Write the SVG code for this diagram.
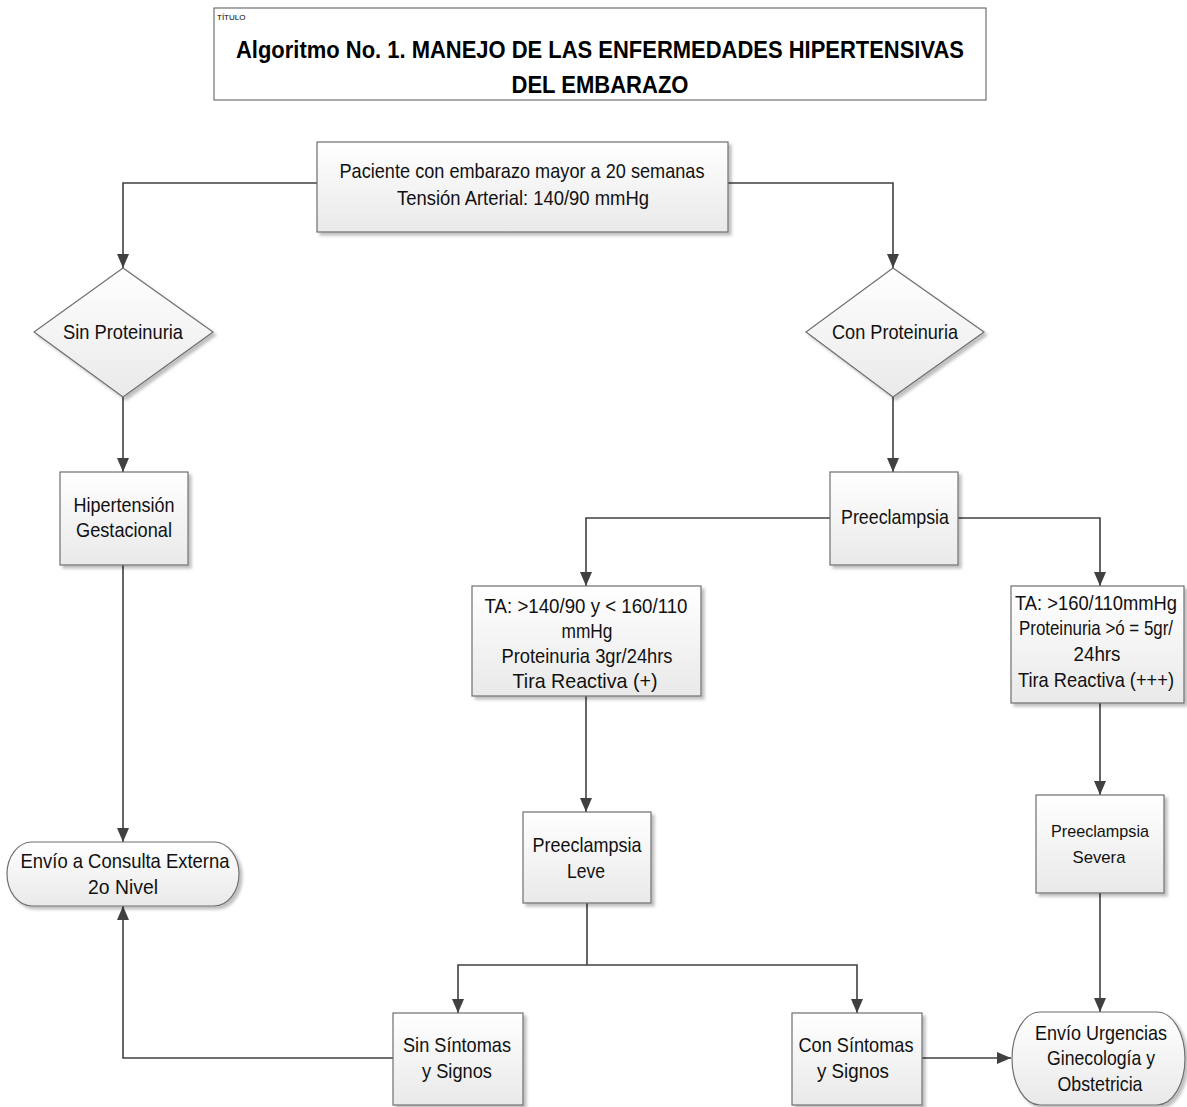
<svg xmlns="http://www.w3.org/2000/svg" width="1187" height="1107" viewBox="0 0 1187 1107">
<style>
.t{font-family:"Liberation Sans",Arial,sans-serif;font-size:21px;fill:#111;text-anchor:middle}
.s{font-family:"Liberation Sans",Arial,sans-serif;font-size:17px;fill:#111;text-anchor:middle}
.ttl{font-family:"Liberation Sans",Arial,sans-serif;font-size:24px;font-weight:bold;fill:#000;text-anchor:middle}
.box{fill:url(#g);stroke:#6f6f6f;stroke-width:1.2;filter:url(#sh)}
.c{fill:none;stroke:#404040;stroke-width:1.6}
.ca{fill:none;stroke:#404040;stroke-width:1.6;marker-end:url(#ah)}
</style>
<defs>
<linearGradient id="g" x1="0" y1="0" x2="0" y2="1">
<stop offset="0" stop-color="#ffffff"/>
<stop offset="1" stop-color="#e9e9e9"/>
</linearGradient>
<filter id="sh" x="-10%" y="-10%" width="130%" height="130%">
<feDropShadow dx="3" dy="3" stdDeviation="1.5" flood-color="#000" flood-opacity="0.25"/>
</filter>
<marker id="ah" markerUnits="userSpaceOnUse" markerWidth="14" markerHeight="12" refX="14" refY="6" orient="auto">
<path d="M0,0 L14,6 L0,12 z" fill="#404040"/>
</marker>
</defs>

<g id="title">
<rect x="214" y="8" width="772" height="92" fill="#fff" stroke="#555" stroke-width="1"/>
<text x="217" y="20" font-family="Liberation Sans,Arial,sans-serif" font-size="8" fill="#000">TÍTULO</text>
<text class="ttl" x="600" y="58" textLength="728" lengthAdjust="spacingAndGlyphs">Algoritmo No. 1.  MANEJO DE LAS ENFERMEDADES HIPERTENSIVAS</text>
<text class="ttl" x="600" y="93" textLength="177" lengthAdjust="spacingAndGlyphs">DEL EMBARAZO</text>
</g>

<g id="connectors">
<path class="ca" d="M317,183 H123 V268"/>
<path class="ca" d="M728,183 H893 V268"/>
<path class="ca" d="M123,397 V472"/>
<path class="ca" d="M893,397 V472"/>
<path class="ca" d="M830,518 H586 V586"/>
<path class="ca" d="M958,518 H1100 V586"/>
<path class="ca" d="M586,696 V812"/>
<path class="ca" d="M1100,703 V795"/>
<path class="ca" d="M1100,893 V1012"/>
<path class="c" d="M587,903 V965"/>
<path class="ca" d="M587,965 H458 V1013"/>
<path class="ca" d="M587,965 H857 V1013"/>
<path class="ca" d="M123,565 V842"/>
<path class="ca" d="M393,1058 H123 V906"/>
<path class="ca" d="M922,1058 H1011"/>
</g>

<g id="start">
<rect class="box" x="317" y="142" width="411" height="90"/>
<text class="t" x="522" y="178" textLength="365" lengthAdjust="spacingAndGlyphs">Paciente con embarazo mayor a 20 semanas</text>
<text class="t" x="523" y="205" textLength="252" lengthAdjust="spacingAndGlyphs">Tensión Arterial:  140/90 mmHg</text>
</g>

<g id="sin-proteinuria">
<path class="box" d="M123,268 L213,332 L123,397 L34,332 z"/>
<text class="t" x="123" y="339" textLength="120" lengthAdjust="spacingAndGlyphs">Sin Proteinuria</text>
</g>

<g id="con-proteinuria">
<path class="box" d="M893,268 L984,332 L893,397 L806,332 z"/>
<text class="t" x="895" y="339" textLength="126" lengthAdjust="spacingAndGlyphs">Con Proteinuria</text>
</g>

<g id="hipertension">
<rect class="box" x="60" y="472" width="128" height="93"/>
<text class="t" x="124" y="512" textLength="101" lengthAdjust="spacingAndGlyphs">Hipertensión</text>
<text class="t" x="124" y="537" textLength="96" lengthAdjust="spacingAndGlyphs">Gestacional</text>
</g>

<g id="preeclampsia">
<rect class="box" x="830" y="472" width="128" height="93"/>
<text class="t" x="895" y="524" textLength="108" lengthAdjust="spacingAndGlyphs">Preeclampsia</text>
</g>

<g id="ta-leve">
<rect class="box" x="472" y="586" width="229" height="110"/>
<text class="t" x="586" y="613" textLength="203" lengthAdjust="spacingAndGlyphs">TA:  &gt;140/90 y &lt; 160/110</text>
<text class="t" x="587" y="638" textLength="51" lengthAdjust="spacingAndGlyphs">mmHg</text>
<text class="t" x="587" y="663" textLength="171" lengthAdjust="spacingAndGlyphs">Proteinuria 3gr/24hrs</text>
<text class="t" x="585" y="688" textLength="145" lengthAdjust="spacingAndGlyphs">Tira Reactiva (+)</text>
</g>

<g id="ta-severa">
<rect class="box" x="1011" y="586" width="173" height="117"/>
<text class="t" x="1096" y="610" textLength="162" lengthAdjust="spacingAndGlyphs">TA: &gt;160/110mmHg</text>
<text class="t" x="1096" y="635" textLength="154" lengthAdjust="spacingAndGlyphs">Proteinuria &gt;ó = 5gr/</text>
<text class="t" x="1097" y="661" textLength="47" lengthAdjust="spacingAndGlyphs">24hrs</text>
<text class="t" x="1096" y="687" textLength="156" lengthAdjust="spacingAndGlyphs">Tira Reactiva (+++)</text>
</g>

<g id="preeclampsia-leve">
<rect class="box" x="523" y="812" width="128" height="91"/>
<text class="t" x="587" y="852" textLength="109" lengthAdjust="spacingAndGlyphs">Preeclampsia</text>
<text class="t" x="586" y="878" textLength="38" lengthAdjust="spacingAndGlyphs">Leve</text>
</g>

<g id="preeclampsia-severa">
<rect class="box" x="1036" y="795" width="128" height="98"/>
<text class="s" x="1100" y="837" textLength="98" lengthAdjust="spacingAndGlyphs">Preeclampsia</text>
<text class="s" x="1099" y="863" textLength="53" lengthAdjust="spacingAndGlyphs">Severa</text>
</g>

<g id="envio-consulta">
<path class="box" d="M32,842 H214 A25,32 0 0 1 214,906 H32 A25,32 0 0 1 32,842 z"/>
<text class="t" x="125" y="868" textLength="209" lengthAdjust="spacingAndGlyphs">Envío a Consulta Externa</text>
<text class="t" x="123" y="894" textLength="70" lengthAdjust="spacingAndGlyphs">2o Nivel</text>
</g>

<g id="sin-sintomas">
<rect class="box" x="393" y="1013" width="130" height="92"/>
<text class="t" x="457" y="1052" textLength="108" lengthAdjust="spacingAndGlyphs">Sin Síntomas</text>
<text class="t" x="457" y="1078" textLength="70" lengthAdjust="spacingAndGlyphs">y Signos</text>
</g>

<g id="con-sintomas">
<rect class="box" x="792" y="1013" width="130" height="92"/>
<text class="t" x="856" y="1052" textLength="115" lengthAdjust="spacingAndGlyphs">Con Síntomas</text>
<text class="t" x="853" y="1078" textLength="72" lengthAdjust="spacingAndGlyphs">y Signos</text>
</g>

<g id="envio-urgencias">
<path class="box" d="M1040,1012 H1157 A28,46.5 0 0 1 1157,1105 H1040 A28,46.5 0 0 1 1040,1012 z"/>
<text class="t" x="1101" y="1040" textLength="132" lengthAdjust="spacingAndGlyphs">Envío Urgencias</text>
<text class="t" x="1101" y="1065" textLength="108" lengthAdjust="spacingAndGlyphs">Ginecología y</text>
<text class="t" x="1100" y="1091" textLength="85" lengthAdjust="spacingAndGlyphs">Obstetricia</text>
</g>
</svg>
